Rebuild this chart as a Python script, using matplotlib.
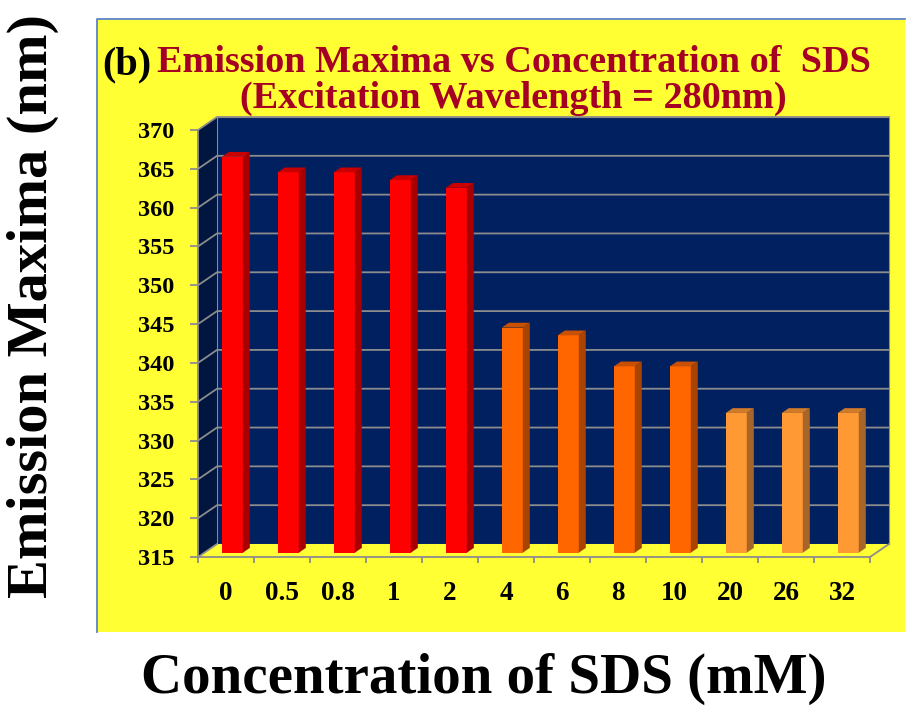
import numpy as np
import matplotlib.pyplot as plt
from matplotlib.patches import Polygon, Rectangle
from matplotlib.lines import Line2D

# Emission maximum of the protein (excitation at 280 nm) against SDS concentration
concentrations = ["0", "0.5", "0.8", "1", "2", "4", "6", "8", "10", "20", "26", "32"]
emission_max = [366, 364, 364, 363, 362, 344, 343, 339, 339, 333, 333, 333]
# colour group of each bar: 0 = low SDS, 1 = mid, 2 = high
bar_group = [0, 0, 0, 0, 0, 1, 1, 1, 1, 2, 2, 2]
y_ticks = list(range(315, 371, 5))

# front / side / top colours for each group
FACE = ["#FF0000", "#FF6600", "#FF9933"]
SIDE = ["#A80000", "#A84300", "#A8652A"]
TOP = ["#C80000", "#C85000", "#D07A2A"]

YELLOW = "#FFFF33"
NAVY = "#002060"
NAVY_SIDE = "#00163F"
GRID = "#8C8C8C"
TITLE_RED = "#A50024"
BORDER = "#5B86C8"

W, H = 910, 707
DEPTH_PX = (19, 13)      # how far the back wall sits behind the front plane
BAR_FRONT = 0.33         # depth fraction of the bar front faces
BAR_BACK = 0.70          # depth fraction of the bar back faces
BAR_WIDTH = 0.375

plt.rcParams["font.family"] = ["Liberation Serif", "DejaVu Serif"]
plt.rcParams["font.weight"] = "bold"


def fx(px):
    return px / W


def fy(py):
    return 1 - py / H


def main():
    fig = plt.figure(figsize=(W / 100, H / 100), dpi=100, facecolor="white")

    # yellow chart panel with its blue frame (left and top edges show)
    fig.patches.append(Rectangle((fx(97), fy(632)), (905 - 97) / W, (632 - 19) / H,
                                 transform=fig.transFigure, fc=YELLOW, ec="none", zorder=-2))
    fig.add_artist(Line2D([fx(97), fx(97), fx(905)], [fy(632), fy(19), fy(19)],
                          transform=fig.transFigure, color=BORDER, lw=1.3, zorder=-1))

    ax = fig.add_axes([fx(198), fy(557), (870 - 198) / W, (557 - 130) / H])
    ax.patch.set_visible(False)
    n = len(emission_max)
    x0, x1 = -0.5, n - 0.5
    ybot, ytop = y_ticks[0], y_ticks[-1]
    ax.set_xlim(x0, x1)
    ax.set_ylim(ybot, ytop)

    # depth vector in data units
    p0 = ax.transData.transform((0, ybot))
    p1 = ax.transData.transform((1, ybot + 5))
    DX = DEPTH_PX[0] / (p1[0] - p0[0])
    DY = DEPTH_PX[1] / ((p1[1] - p0[1]) / 5)

    # walls and floor
    ax.add_patch(Rectangle((x0 + DX, ybot + DY), x1 - x0, ytop - ybot, fc=NAVY,
                           ec=GRID, lw=0.8, clip_on=False, zorder=0))
    ax.add_patch(Polygon([(x0, ybot), (x0, ytop), (x0 + DX, ytop + DY), (x0 + DX, ybot + DY)],
                         fc=NAVY_SIDE, ec="none", clip_on=False, zorder=0))
    ax.add_patch(Polygon([(x0, ybot), (x1, ybot), (x1 + DX, ybot + DY), (x0 + DX, ybot + DY)],
                         fc=YELLOW, ec="none", clip_on=False, zorder=0.5))

    # gridlines across side wall and back wall
    for v in y_ticks[1:]:
        ax.plot([x0, x0 + DX, x1 + DX], [v, v + DY, v + DY], color=GRID, lw=1.3,
                clip_on=False, zorder=1)
    ax.plot([x0, x0 + DX], [ybot, ybot + DY], color=GRID, lw=1.3, clip_on=False, zorder=1)
    ax.plot([x1, x1 + DX], [ybot, ybot + DY], color=GRID, lw=1.3, clip_on=False, zorder=1)

    # 3D bars
    xs = np.arange(n)
    vals = np.array(emission_max, dtype=float)
    ox, oy = BAR_FRONT * DX, BAR_FRONT * DY
    dx, dy = (BAR_BACK - BAR_FRONT) * DX, (BAR_BACK - BAR_FRONT) * DY
    ax.bar(xs + ox, vals - ybot, bottom=ybot + oy, width=BAR_WIDTH,
           color=[FACE[g] for g in bar_group], clip_on=False, zorder=3)
    for x, v, g in zip(xs, vals, bar_group):
        xl = x + ox - BAR_WIDTH / 2
        xr = xl + BAR_WIDTH
        b, t = ybot + oy, v + oy
        ax.add_patch(Polygon([(xr, b), (xr, t), (xr + dx, t + dy), (xr + dx, b + dy)],
                             fc=SIDE[g], ec="none", clip_on=False, zorder=3))
        ax.add_patch(Polygon([(xl, t), (xr, t), (xr + dx, t + dy), (xl + dx, t + dy)],
                             fc=TOP[g], ec="none", clip_on=False, zorder=3))

    # axes lines and ticks
    for side in ["top", "right"]:
        ax.spines[side].set_visible(False)
    for side in ["left", "bottom"]:
        ax.spines[side].set_color(GRID)
        ax.spines[side].set_linewidth(1.3)
        ax.spines[side].set_zorder(2)

    ax.set_yticks(y_ticks)
    ax.tick_params(axis="y", length=5.8, width=1.3, color=GRID, pad=11, labelsize=17.5)
    ax.set_xticks(xs, labels=concentrations)
    ax.set_xticks(np.arange(x0, x1 + 0.01, 1), minor=True)
    ax.tick_params(axis="x", which="major", length=0, pad=17, labelsize=19.5)
    ax.tick_params(axis="x", which="minor", length=4.5, width=1.3, color=GRID)

    # titles and axis labels
    fig.text(fx(102), fy(74), "(b)", fontsize=29, color="black", ha="left", va="baseline")
    fig.text(fx(514), fy(72), "Emission Maxima vs Concentration of  SDS", fontsize=27.5,
             color=TITLE_RED, ha="center", va="baseline")
    fig.text(fx(513), fy(108), "(Excitation Wavelength = 280nm)", fontsize=27.5,
             color=TITLE_RED, ha="center", va="baseline")
    fig.text(fx(33), fy(306), "Emission Maxima (nm)", fontsize=42, rotation=90,
             ha="center", va="center")
    fig.text(fx(484), fy(693), "Concentration of SDS (mM)", fontsize=41,
             ha="center", va="baseline")

    fig.savefig("out.png", dpi=100)


if __name__ == "__main__":
    main()
